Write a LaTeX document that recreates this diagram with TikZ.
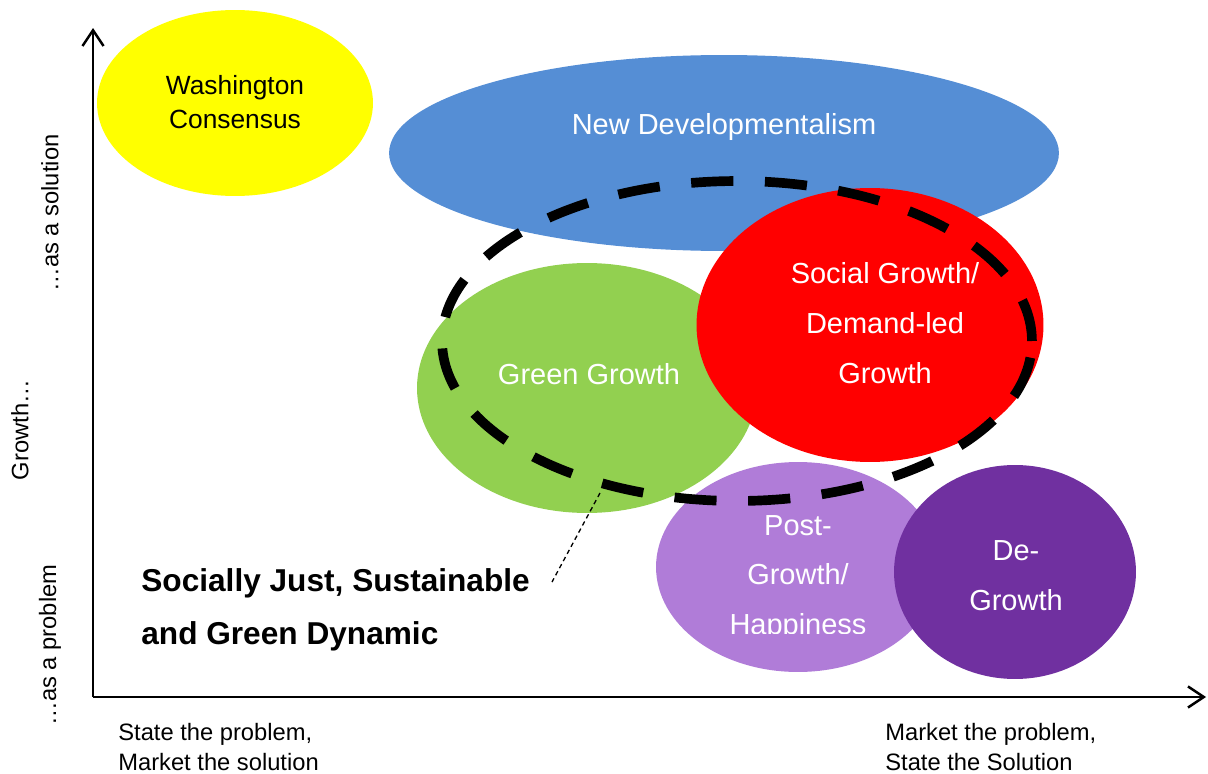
\documentclass[tikz,border=0pt]{standalone}
\usepackage{fontspec}
\setmainfont{Liberation Sans}
\usetikzlibrary{shapes.geometric,arrows.meta}
\definecolor{wcyellow}{RGB}{255,255,0}
\definecolor{ndblue}{RGB}{85,142,213}
\definecolor{ggreen}{RGB}{146,208,80}
\definecolor{sgred}{RGB}{255,0,0}
\definecolor{pglilac}{RGB}{176,124,216}
\definecolor{dgpurple}{RGB}{112,48,160}
\tikzset{blob/.style={ellipse, inner sep=0pt, draw=none},
  lbl/.style={text=white, align=center, inner sep=0pt, font=\fontsize{16.5}{28.3}\selectfont},
  axis/.style={line width=1.4pt, -{Straight Barb[length=9pt,width=12pt,line width=1.4pt]}},
  side/.style={font=\fontsize{13.5}{17}\selectfont, inner sep=0pt}}

\begin{document}
\begin{tikzpicture}[x=0.02cm,y=-0.02cm]
    \useasboundingbox (0,0) rectangle (1208,774);
    % axes
    \coordinate (o) at (93,697);
    \coordinate (ytip) at (93,28);
    \coordinate (xtip) at (1206,697);
    \draw[axis] (o) -- (ytip);
    \draw[axis] (o) -- (xtip);
    \node[side, rotate=90] (gr) at (20,430) {Growth…};
    \node[side, rotate=90] (sol) at (50,213) {…as a solution};
    \node[side, rotate=90] (prob) at (50,645) {…as a problem};
    \node[side, anchor=north west, align=left] (left) at (118,723) {State the problem,\\Market the solution};
    \node[side, anchor=north west, align=left] (right) at (885,723) {Market the problem,\\State the Solution};
    % bubbles
    \node[blob, fill=wcyellow, minimum width=5.52cm, minimum height=3.72cm] (wc) at (235,103) {};
    \node[lbl, text=black, font=\fontsize{15}{19.3}\selectfont] (wct) at (235,102) {Washington\\Consensus};
    \node[blob, fill=ndblue, minimum width=13.4cm, minimum height=3.92cm] (nd) at (724,153) {};
    \node[lbl] (ndt) at (724,127) {New Developmentalism};
    \node[blob, fill=ggreen, minimum width=6.8cm, minimum height=5cm] (gg) at (587,388) {};
    \node[lbl] (ggt) at (589,374) {Green Growth};
    \node[blob, fill=sgred, minimum width=6.94cm, minimum height=5.48cm] (sg) at (870,325) {};
    \node[lbl] (sgt) at (885,323) {Social Growth/\\Demand-led\\Growth};
    \node[blob, fill=pglilac, minimum width=5.68cm, minimum height=4.2cm] (pg) at (798,567) {};
    \begin{scope}
        \clip (650,460) rectangle (945,633);
        \node[lbl] (pgt) at (798,578) {Post-\\Growth/\\Happiness};
    \end{scope}
    \node[blob, fill=dgpurple, minimum width=4.84cm, minimum height=4.28cm] (dg) at (1015,572) {};
    \node[lbl] (dgt) at (1016,576) {De-\\Growth};
    % the dynamic
    \node[blob, draw=black, line width=5.5pt, dash pattern=on 24pt off 18pt, minimum width=11.8cm, minimum height=6.4cm] (dyn) at (737,341) {};
    \node[anchor=west, align=left, inner sep=0pt, font=\bfseries\fontsize{18}{30}\selectfont] (just) at (141,610) {Socially Just, Sustainable\\and Green Dynamic};
    \coordinate (lead) at (600,493);
    \coordinate (leadend) at (552,582);
    \draw[line width=0.75pt, dash pattern=on 2.6pt off 2pt] (lead) -- (leadend);
\end{tikzpicture}
\end{document}
